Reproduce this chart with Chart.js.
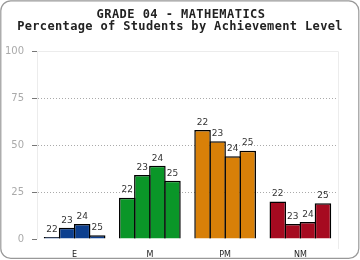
<!DOCTYPE html>
<html>
<head>
<meta charset="utf-8">
<script src="https://cdn.jsdelivr.net/npm/chart.js@4.4.1/dist/chart.umd.min.js"></script>
<style>
  html, body { margin: 0; padding: 0; background: #fff; }
  #wrap { width: 360px; height: 260px; position: relative; }
</style>
</head>
<body>
<div id="wrap"><canvas id="chart" width="360" height="260"></canvas></div>
<script>
const titleLines = ["GRADE 04 - MATHEMATICS", "Percentage of Students by Achievement Level"];
const levels = ["E", "M", "PM", "NM"];
const years = ["22", "23", "24", "25"];
const levelColors = ["#0c3f8f", "#0a9628", "#d88008", "#a60a20"];
const yTicks = [0, 25, 50, 75, 100];

// percent of students, one array per year, in level order E, M, PM, NM
const y22 = [1, 22, 58, 20];
const y23 = [6, 34, 52, 8];
const y24 = [8, 39, 44, 9];
const y25 = [2, 31, 47, 19];

const frame = {
  id: "frame",
  beforeDraw: (chart) => {
    const ctx = chart.ctx;
    const a = chart.chartArea;
    ctx.save();
    // light box round the plot
    ctx.strokeStyle = "#ececec";
    ctx.lineWidth = 1;
    ctx.beginPath();
    ctx.moveTo(a.left + 0.5, a.bottom);
    ctx.lineTo(a.left + 0.5, a.top + 0.5);
    ctx.lineTo(a.right + 0.5, a.top + 0.5);
    ctx.lineTo(a.right + 0.5, a.bottom + 10);
    ctx.stroke();
    // dotted grid lines
    const y = chart.scales.y;
    ctx.strokeStyle = "#aaaaaa";
    ctx.setLineDash([1, 2]);
    [25, 50, 75].forEach((v) => {
      const py = Math.round(y.getPixelForValue(v)) + 0.5;
      ctx.beginPath();
      ctx.moveTo(a.left + 1, py);
      ctx.lineTo(a.right, py);
      ctx.stroke();
    });
    ctx.restore();
  },
  afterDraw: (chart) => {
    const ctx = chart.ctx;
    ctx.save();
    // labels over bars
    ctx.font = "9px 'DejaVu Sans'";
    ctx.fillStyle = "#333";
    ctx.textAlign = "center";
    ctx.textBaseline = "bottom";
    chart.data.datasets.forEach((ds, i) => {
      chart.getDatasetMeta(i).data.forEach((bar) => {
        ctx.fillText(ds.label, bar.x, bar.y - 3);
      });
    });
    // title
    ctx.fillStyle = "#222";
    ctx.font = "bold 12px 'DejaVu Sans Mono'";
    ctx.textBaseline = "alphabetic";
    ctx.letterSpacing = "0.45px";
    ctx.fillText(titleLines[0], 181, 18);
    ctx.letterSpacing = "0.35px";
    ctx.fillText(titleLines[1], 180, 30);
    // rounded outer border
    ctx.letterSpacing = "0px";
    ctx.strokeStyle = "#999";
    ctx.lineWidth = 1.2;
    ctx.beginPath();
    ctx.roundRect(0.8, 0.8, 358, 257.6, 10);
    ctx.stroke();
    ctx.restore();
  }
};

const years4 = [y22, y23, y24, y25];

new Chart(document.getElementById("chart"), {
  type: "bar",
  data: {
    labels: levels,
    datasets: years.map((yr, i) => ({
      label: yr,
      data: years4[i],
      backgroundColor: levelColors,
      borderColor: "#000",
      borderWidth: 1.5,
      categoryPercentage: 0.8,
      barPercentage: 1.1,
    })),
  },
  options: {
    responsive: false,
    animation: false,
    events: [],
    layout: { padding: { top: 51, right: 22, left: 0, bottom: 0 } },
    plugins: {
      legend: { display: false },
      title: { display: false },
      tooltip: { enabled: false },
    },
    scales: {
      x: {
        grid: { display: false },
        border: { display: false },
        ticks: { color: "#222", font: { family: "DejaVu Sans", size: 8 }, padding: 3 },
        afterFit: (s) => { s.height = 21; },
      },
      y: {
        min: 0,
        max: 100,
        afterBuildTicks: (s) => { s.ticks = yTicks.map((v) => ({ value: v })); },
        grid: {
          drawOnChartArea: false,
          drawTicks: true,
          tickLength: 5,
          tickColor: "#777",
        },
        border: { display: false },
        ticks: { color: "#aaa", font: { family: "DejaVu Sans", size: 10 }, padding: 8 },
        afterFit: (s) => { s.width = 37; },
      },
    },
  },
  plugins: [frame],
});
</script>
</body>
</html>
